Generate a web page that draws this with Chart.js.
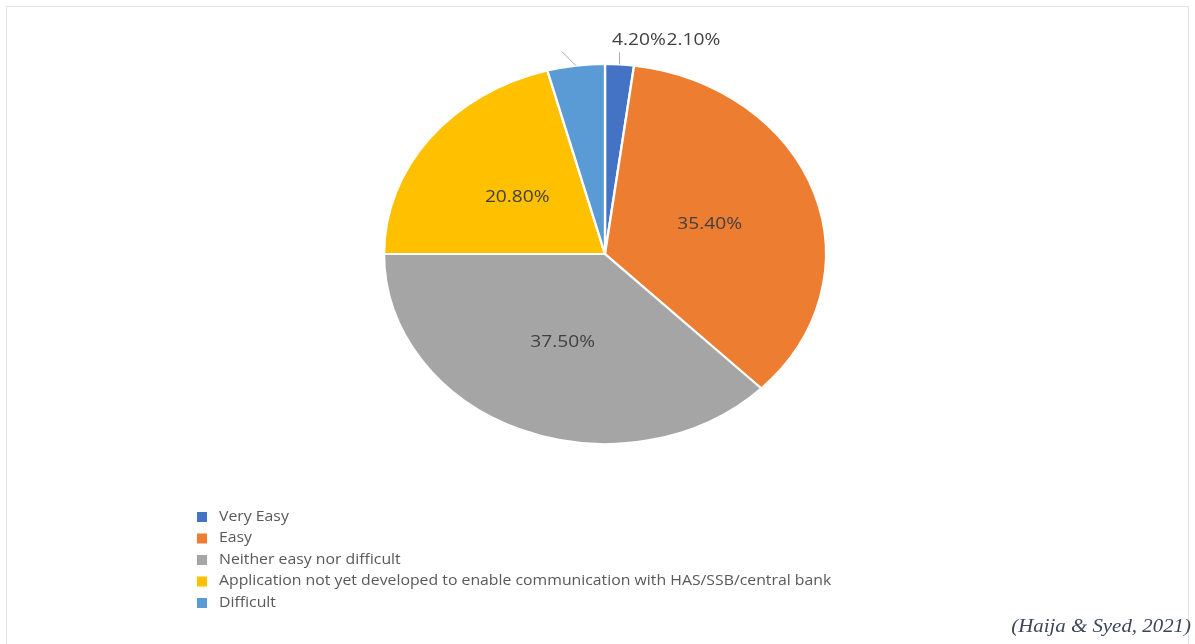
<!DOCTYPE html>
<html>
<head>
<meta charset="utf-8">
<script src="https://cdn.jsdelivr.net/npm/chart.js@4.4.1/dist/chart.umd.min.js"></script>
<style>
  html, body { margin: 0; padding: 0; background: #fff; }
  #wrap { position: relative; width: 1195px; height: 644px; overflow: hidden; }
  #frame { position: absolute; left: 6px; top: 6px; width: 1183px; height: 700px;
           border: 1px solid #e3e3e3; box-sizing: border-box; }
  #pie { position: absolute; left: 0; top: 0; }
  #cite { position: absolute; right: 4px; top: 616px; font: italic 18px "Liberation Serif", serif;
          color: #3b4658; transform: scaleX(1.16); transform-origin: right center; white-space: nowrap; }
</style>
</head>
<body>
<div id="wrap">
  <div id="frame"></div>
  <canvas id="pie" width="1195" height="644"></canvas>
  <div id="cite">(Haija &amp; Syed, 2021)</div>
</div>
<script>
const categories = ['Very Easy', 'Easy', 'Neither easy nor difficult',
  'Application not yet developed to enable communication with HAS/SSB/central bank', 'Difficult'];
const shares = [2.1, 35.4, 37.5, 20.8, 4.2];
const valueLabels = ['2.10%', '35.40%', '37.50%', '20.80%', '4.20%'];
const colors = ['#4472C4', '#ED7D31', '#A5A5A5', '#FFC000', '#5B9BD5'];

// the original picture is stretched sideways, pie and text alike
const SX = 1.163;
const FONT = '"Open Sans", "Noto Sans", sans-serif';

function wideText(ctx, txt, x, y) {
  ctx.save();
  ctx.translate(x, y);
  ctx.scale(SX, 1);
  ctx.fillText(txt, 0, 0);
  ctx.restore();
}

const stretch = {
  id: 'stretch',
  beforeDatasetsDraw(chart) {
    const a = chart.getDatasetMeta(0).data[0];
    const ctx = chart.ctx;
    ctx.save();
    ctx.translate(a.x, a.y);
    ctx.scale(SX, 1);
    ctx.translate(-a.x, -a.y);
  },
  afterDatasetsDraw(chart) {
    chart.ctx.restore();
  }
};

// outside labels for the two thin slices: leader offset and text x offset
const outside = {
  0: { lead: [0, -12], tx: 47 },
  4: { lead: [-14, -14], tx: 36 }
};

const labels = {
  id: 'labels',
  afterDraw(chart) {
    const ctx = chart.ctx;
    const arcs = chart.getDatasetMeta(0).data;
    ctx.save();
    ctx.font = '16.5px ' + FONT;
    ctx.fillStyle = '#404040';
    ctx.textBaseline = 'middle';
    arcs.forEach((a, i) => {
      const mid = (a.startAngle + a.endAngle) / 2;
      if (outside[i]) {
        const o = outside[i];
        const r = a.outerRadius;
        const sx = a.x + Math.cos(mid) * r * SX;
        const sy = a.y + Math.sin(mid) * r;
        ctx.strokeStyle = '#a6a6a6';
        ctx.lineWidth = 1;
        ctx.beginPath();
        ctx.moveTo(sx, sy);
        ctx.lineTo(sx + o.lead[0], sy + o.lead[1]);
        ctx.stroke();
        ctx.textAlign = 'left';
        wideText(ctx, valueLabels[i], sx + o.tx, a.y - a.outerRadius - 24);
      } else {
        const r = a.outerRadius * 0.5;
        const x = a.x + Math.cos(mid) * r * SX;
        const y = a.y + Math.sin(mid) * r;
        ctx.textAlign = 'center';
        wideText(ctx, valueLabels[i], x, y + 1);
      }
    });

    // legend, one entry per row
    const lx = 197, ly = 517, step = 21.5;
    ctx.font = '13.6px ' + FONT;
    categories.forEach((c, i) => {
      const y = ly + i * step;
      ctx.fillStyle = colors[i];
      ctx.fillRect(lx, y - 5, 10, 10);
      ctx.fillStyle = '#595959';
      ctx.textAlign = 'left';
      wideText(ctx, c, lx + 22, y);
    });
    ctx.restore();
  }
};

new Chart(document.getElementById('pie'), {
  type: 'pie',
  data: {
    labels: categories,
    datasets: [{
      data: shares,
      backgroundColor: colors,
      borderColor: '#ffffff',
      borderWidth: 2
    }]
  },
  options: {
    responsive: false,
    animation: false,
    layout: { padding: { top: 63, bottom: 199, left: 230, right: 215 } },
    plugins: {
      legend: { display: false },
      tooltip: { enabled: false }
    }
  },
  plugins: [stretch, labels]
});
</script>
</body>
</html>
